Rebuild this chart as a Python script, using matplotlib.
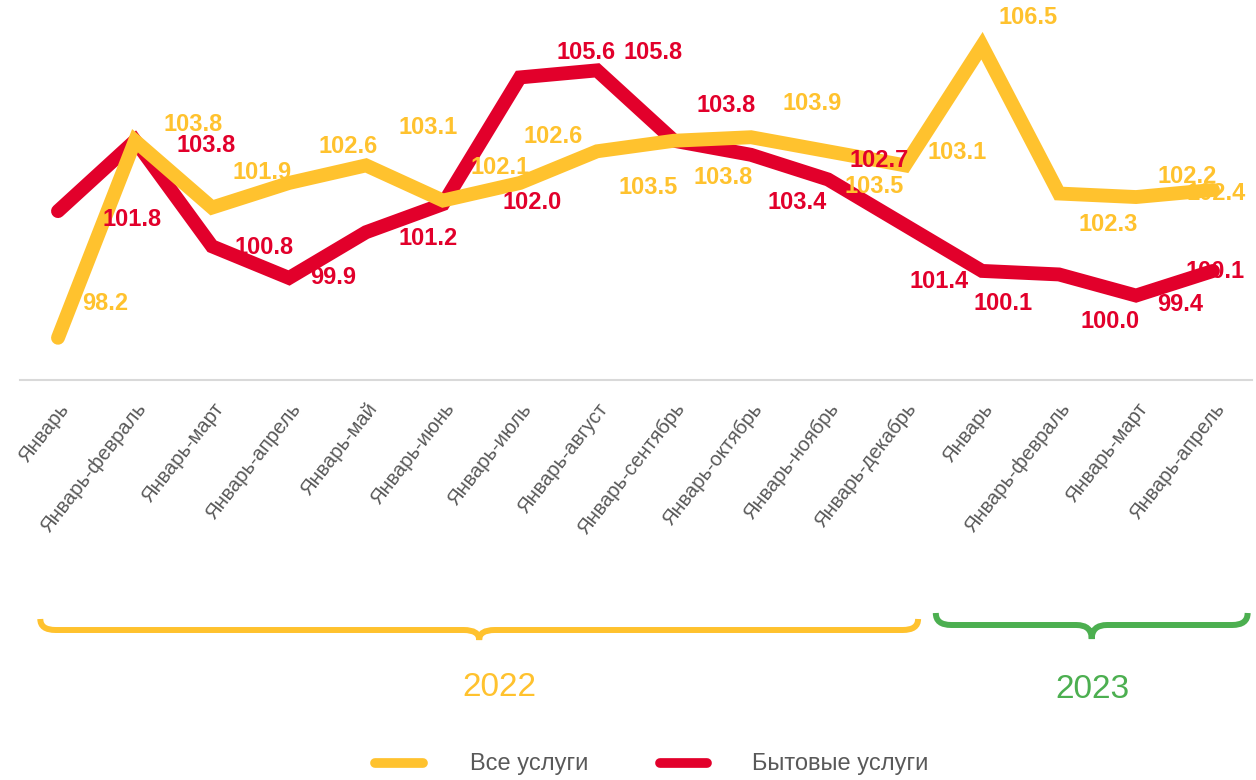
import matplotlib.pyplot as plt
from matplotlib.path import Path
from matplotlib.patches import PathPatch
from matplotlib.lines import Line2D
from matplotlib.transforms import blended_transform_factory

plt.rcParams['font.family'] = ['Liberation Sans', 'DejaVu Sans']

# categories (2022: 12 periods, 2023: 4 periods)
categories = ['Январь', 'Январь-февраль', 'Январь-март', 'Январь-апрель', 'Январь-май',
              'Январь-июнь', 'Январь-июль', 'Январь-август', 'Январь-сентябрь',
              'Январь-октябрь', 'Январь-ноябрь', 'Январь-декабрь',
              'Январь', 'Январь-февраль', 'Январь-март', 'Январь-апрель']

all_services = [98.2, 103.8, 101.9, 102.6, 103.1, 102.1, 102.6, 103.5, 103.8, 103.9,
                103.5, 103.1, 106.5, 102.3, 102.2, 102.4]
household = [101.8, 103.8, 100.8, 99.9, 101.2, 102.0, 105.6, 105.8, 103.8, 103.4,
             102.7, 101.4, 100.1, 100.0, 99.4, 100.1]

series_names = ['Все услуги', 'Бытовые услуги']
years = ['2022', '2023']

# label offsets in pixels (dx, dy up) as the labels sit in the original
yellow_offsets = [(47, 34), (58, 16), (50, 35), (59, 36), (62, 38), (57, 33), (33, 46),
                  (51, -36), (49, -37), (61, 34), (46, -35), (52, 13), (46, 28),
                  (49, -31), (51, 21), (3, -3)]
red_offsets = [(74, -8), (71, -5), (52, -1), (44, 0), (62, -6), (89, 2), (66, 25),
               (56, 18), (52, 35), (46, -48), (51, 19), (34, -56), (21, -33),
               (51, -47), (44, -9), (2, -1)]

YELLOW = '#FFC22E'
RED = '#E2002B'
GREEN = '#4CAF50'
GRAY = '#595959'

W, H = 1256, 780
fig = plt.figure(figsize=(W / 100, H / 100), dpi=100)
ax = fig.add_axes([19.5 / W, 400 / H, 1232 / W, 380 / H])

x = list(range(len(categories)))
ax.plot(x, household, color=RED, lw=10, solid_capstyle='round', solid_joinstyle='miter', zorder=2)
ax.plot(x, all_services, color=YELLOW, lw=10, solid_capstyle='round', solid_joinstyle='miter', zorder=3)

for i in x:
    ax.annotate(f'{all_services[i]:.1f}', (i, all_services[i]), xytext=yellow_offsets[i],
                textcoords='offset pixels', ha='center', va='center', color=YELLOW,
                fontsize=17, fontweight='bold', zorder=5, annotation_clip=False)
    ax.annotate(f'{household[i]:.1f}', (i, household[i]), xytext=red_offsets[i],
                textcoords='offset pixels', ha='center', va='center', color=RED,
                fontsize=17, fontweight='bold', zorder=6, annotation_clip=False)

ax.set_xlim(-0.5, len(categories) - 0.5)
ax.set_ylim(97.0, 107.8)
ax.set_yticks([])
ax.set_xticks(x)
ax.set_xticklabels(categories, rotation=52, ha='right', va='top', rotation_mode='anchor',
                   color=GRAY, fontsize=14.5)
ax.tick_params(axis='x', length=0, pad=14)
for side in ['top', 'left', 'right']:
    ax.spines[side].set_visible(False)
ax.spines['bottom'].set_color('#D9D9D9')
ax.spines['bottom'].set_linewidth(1.5)
ax.patch.set_visible(False)

# x in data units, y in figure fraction
trans = blended_transform_factory(ax.transData, fig.transFigure)


# curly braces under the year groups
def brace(x0, x1, y_top, y_mid, y_bot, color):
    m = (x0 + x1) / 2
    d = 0.2
    verts = [(x0, y_top), (x0, y_mid), (x0 + d, y_mid),
             (m - d, y_mid), (m, y_mid), (m, y_bot),
             (m, y_mid), (m + d, y_mid),
             (x1 - d, y_mid), (x1, y_mid), (x1, y_top)]
    codes = [Path.MOVETO, Path.CURVE3, Path.CURVE3,
             Path.LINETO, Path.CURVE3, Path.CURVE3,
             Path.CURVE3, Path.CURVE3,
             Path.LINETO, Path.CURVE3, Path.CURVE3]
    patch = PathPatch(Path(verts, codes), fill=False, edgecolor=color, lw=4.3,
                      transform=trans, clip_on=False, capstyle='butt')
    fig.add_artist(patch)


brace(-0.23, 11.17, 1 - 619 / H, 1 - 630 / H, 1 - 640 / H, YELLOW)
brace(11.4, 15.45, 1 - 613 / H, 1 - 625 / H, 1 - 639 / H, GREEN)

fig.text(5.73, 1 - 687 / H, years[0], transform=trans, ha='center', va='center',
         color=YELLOW, fontsize=24)
fig.text(13.43, 1 - 689 / H, years[1], transform=trans, ha='center', va='center',
         color=GREEN, fontsize=24)

# legend drawn by hand in figure pixels
for (x0, x1, tx), col, name in zip([(375, 423, 470), (660, 707, 752)], [YELLOW, RED], series_names):
    fig.add_artist(Line2D([x0 / W, x1 / W], [1 - 763 / H, 1 - 763 / H], color=col, lw=7,
                          solid_capstyle='round', transform=fig.transFigure))
    fig.text(tx / W, 1 - 764 / H, name, ha='left', va='center', color=GRAY, fontsize=17)

fig.savefig('out.png', dpi=100)
